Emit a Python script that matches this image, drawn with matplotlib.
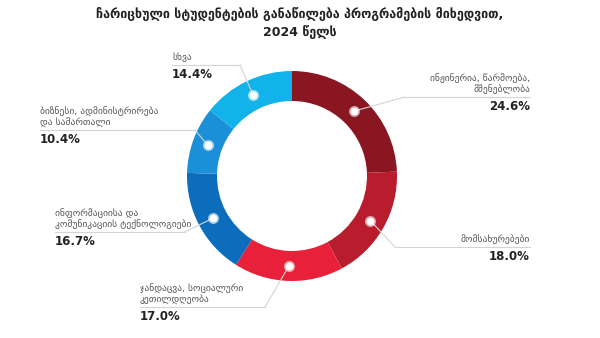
import matplotlib
matplotlib.use('Agg')
import numpy as np
from matplotlib import pyplot as plt

title = ['ჩარიცხული სტუდენტების განაწილება პროგრამების მიხედვით,', '2024 წელს']
names = ['ინჟინერია, წარმოება,\nმშენებლობა', 'მომსახურებები',
         'ჯანდაცვა, სოციალური\nკეთილდღეობა',
         'ინფორმაციისა და\nკომუნიკაციის ტექნოლოგიები',
         'ბიზნესი, ადმინისტრირება\nდა სამართალი', 'სხვა']
shares = [24.6, 18.0, 17.0, 16.7, 10.4, 14.4]
colors = ['#8a1622', '#b91c2c', '#e8203a', '#0b6dbb', '#1c8fd9', '#12b2ea']

# label anchor (x, y of the rule line) and side
label_pos = [(530, 97, 'r'), (530, 247, 'r'), (140, 307, 'l'),
             (55, 232, 'l'), (40, 130, 'l'), (172, 65, 'l')]
line_len = [125, 135, 125, 130, 155, 68]

plt.rcParams['font.family'] = ['DejaVu Sans']

fig = plt.figure(figsize=(6, 3.38), dpi=100)
ax = fig.add_axes([0, 0, 1, 1])
ax.axis('off')

cx, cy, r, w = 292, 162, 105, 30
ax.pie(shares, colors=colors, startangle=90, counterclock=False,
       center=(cx, cy), radius=r, wedgeprops=dict(width=w, linewidth=0),
       normalize=True)
ax.set_aspect('equal')
ax.set_xlim(0, 600)
ax.set_ylim(0, 338)

fr = np.array(shares) / sum(shares)
mids = 90 - 360 * (np.cumsum(fr) - fr / 2)
rm = r - w / 2
for i, a in enumerate(mids):
    px = cx + rm * np.cos(np.radians(a))
    py = cy + rm * np.sin(np.radians(a))
    lx, ly, side = label_pos[i]
    ly = 338 - ly
    if side == 'r':
        x0, x1 = lx - line_len[i], lx
        elbow = x0
        ha = 'right'
    else:
        x0, x1 = lx, lx + line_len[i]
        elbow = x1
        ha = 'left'
    ax.plot([x0, x1], [ly, ly], color='#d4d4d4', lw=0.8, zorder=3)
    ax.plot([elbow, px], [ly, py], color='#d4d4d4', lw=0.8, zorder=3)
    ax.plot(px, py, 'o', ms=7, mfc='white', mec='white', alpha=0.5, zorder=4)
    ax.plot(px, py, 'o', ms=4.5, mfc='white', mec='white', zorder=5)
    ax.text(lx, ly + 3, names[i], ha=ha, va='bottom', fontsize=6.8,
            color='#555555', linespacing=1.2)
    ax.text(lx, ly - 3, f'{shares[i]:.1f}%', ha=ha, va='top', fontsize=8.5,
            fontweight='bold', color='#222222')

for k, line in enumerate(title):
    ax.text(300, 338 - 18 - 18 * k, line, ha='center', va='baseline',
            fontsize=9, fontweight='bold', color='#222222')

fig.savefig('out.png', dpi=100)
